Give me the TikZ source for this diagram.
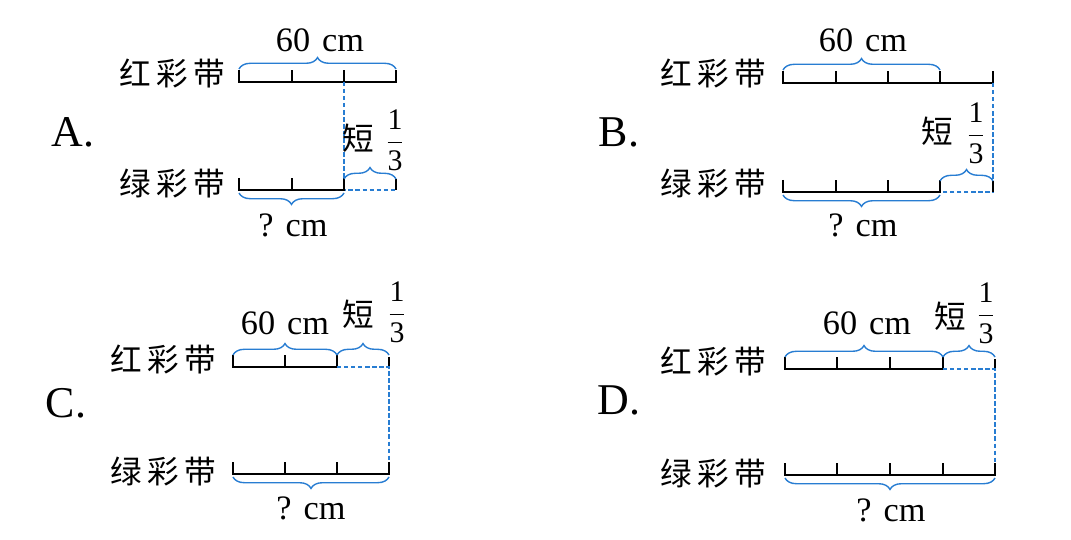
\documentclass[tikz,border=0pt]{standalone}
\usepackage{fontspec}
\setmainfont{Liberation Serif}
\newfontfamily\cjk{Noto Sans CJK SC}
\usetikzlibrary{decorations.pathreplacing}
\definecolor{tapeblue}{RGB}{40,125,210}

\begin{document}
\begin{tikzpicture}[x=0.02cm,y=-0.02cm,
  bar/.style={line width=1.1pt,line cap=butt},
  upbrace/.style={tapeblue,line width=0.8pt,decorate,decoration={brace,amplitude=6.5pt}},
  lowbrace/.style={tapeblue,line width=0.8pt,decorate,decoration={brace,mirror,amplitude=6.5pt}},
  guide/.style={tapeblue,line width=0.6pt,dash pattern=on 2.5pt off 1.5pt},
  cn/.style={font=\cjk\fontsize{18}{20}\selectfont,inner sep=1pt},
  num/.style={font=\fontsize{19.5}{22}\selectfont},
  frac/.style={font=\fontsize{17}{20}\selectfont,inner sep=0.5pt},
  choice/.style={font=\fontsize{25}{28}\selectfont}]
  \useasboundingbox (0,0) rectangle (1071,540);
  % Option A
  \node[choice] (optA) at (73,132) {A.};
  \node[cn] (redA) at (172,73) {红\,彩\,带};
  \node[cn] (greenA) at (172,183) {绿\,彩\,带};
  \draw[bar] (239,70) -- (239,82) -- (396,82) -- (396,70) (292,82) -- (292,70) (344,82) -- (344,70);
  \draw[upbrace] (239,69) -- (396,69);
  \node[num] (lenA) at (320,40) {60\hspace{0.35em}cm};
  \draw[guide] (344,82) -- (344,190) -- (396,190);
  \draw[bar] (239,178) -- (239,190) -- (344,190) -- (344,178) (292,190) -- (292,178) (396,190) -- (396,179);
  \draw[upbrace] (344,179) -- (396,179);
  \node[cn] (shortA) at (358,138) {短};
  \node[frac] (fracA) at (395,140) {$\displaystyle\frac{\mbox{1}}{\mbox{3}}$};
  \draw[lowbrace] (239,193) -- (344,193);
  \node[num] (qA) at (293,225) {?\hspace{0.35em}cm};
  % Option B
  \node[choice] (optB) at (619,132) {B.};
  \node[cn] (redB) at (713,73) {红\,彩\,带};
  \node[cn] (greenB) at (713,183) {绿\,彩\,带};
  \draw[bar] (783,71) -- (783,83) -- (993,83) -- (993,71) (836,83) -- (836,71) (888,83) -- (888,71) (940,83) -- (940,71);
  \draw[upbrace] (783,70) -- (940,70);
  \node[num] (lenB) at (863,40) {60\hspace{0.35em}cm};
  \draw[guide] (993,83) -- (993,192) -- (940,192);
  \draw[bar] (783,180) -- (783,192) -- (940,192) -- (940,180) (836,192) -- (836,180) (888,192) -- (888,180) (993,192) -- (993,181);
  \draw[upbrace] (940,181) -- (993,181);
  \node[cn] (shortB) at (937,131) {短};
  \node[frac] (fracB) at (976,133) {$\displaystyle\frac{\mbox{1}}{\mbox{3}}$};
  \draw[lowbrace] (783,195) -- (940,195);
  \node[num] (qB) at (863,225) {?\hspace{0.35em}cm};
  % Option C
  \node[choice] (optC) at (66,403) {C.};
  \node[cn] (redC) at (163,359) {红\,彩\,带};
  \node[cn] (greenC) at (163,471) {绿\,彩\,带};
  \draw[bar] (233,355) -- (233,367) -- (337,367) -- (337,355) (285,367) -- (285,355) (389,367) -- (389,357);
  \draw[guide] (337,367) -- (389,367) -- (389,474);
  \draw[upbrace] (233,355) -- (337,355);
  \draw[upbrace] (337,355) -- (389,355);
  \node[num] (lenC) at (285,323) {60\hspace{0.35em}cm};
  \node[cn] (shortC) at (358,314) {短};
  \node[frac] (fracC) at (397,312) {$\displaystyle\frac{\mbox{1}}{\mbox{3}}$};
  \draw[bar] (233,462) -- (233,474) -- (389,474) -- (389,462) (285,474) -- (285,462) (337,474) -- (337,462);
  \draw[lowbrace] (233,477) -- (389,477);
  \node[num] (qC) at (311,508) {?\hspace{0.35em}cm};
  % Option D
  \node[choice] (optD) at (619,400) {D.};
  \node[cn] (redD) at (713,361) {红\,彩\,带};
  \node[cn] (greenD) at (713,473) {绿\,彩\,带};
  \draw[bar] (785,357) -- (785,369) -- (943,369) -- (943,357) (837,369) -- (837,357) (890,369) -- (890,357) (995,369) -- (995,359);
  \draw[guide] (943,369) -- (995,369) -- (995,475);
  \draw[upbrace] (785,357) -- (943,357);
  \draw[upbrace] (943,357) -- (995,357);
  \node[num] (lenD) at (867,323) {60\hspace{0.35em}cm};
  \node[cn] (shortD) at (950,316) {短};
  \node[frac] (fracD) at (986,313) {$\displaystyle\frac{\mbox{1}}{\mbox{3}}$};
  \draw[bar] (785,463) -- (785,475) -- (995,475) -- (995,463) (837,475) -- (837,463) (890,475) -- (890,463) (943,475) -- (943,463);
  \draw[lowbrace] (785,478) -- (995,478);
  \node[num] (qD) at (891,510) {?\hspace{0.35em}cm};
\end{tikzpicture}
\end{document}
